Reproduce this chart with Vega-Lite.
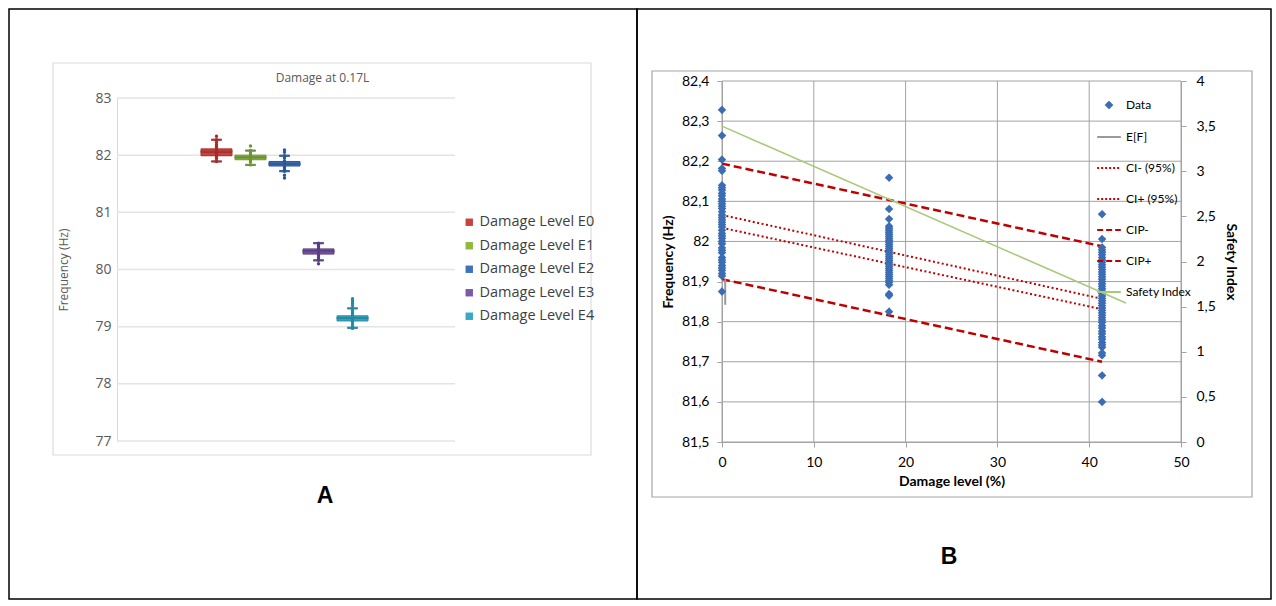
{
  "$schema": "https://vega.github.io/schema/vega-lite/v6.json",
  "padding": {"left": 8, "top": 8, "right": 6, "bottom": 8},
  "background": "white",
  "bounds": "flush",
  "spacing": 0,
  "config": {
    "view": {"stroke": "#000", "strokeWidth": 1.5},
    "axis": {"labelFont": "Lato", "titleFont": "Lato", "labelFlush": false}
  },
  "resolve": {"scale": {"color": "independent", "fill": "independent", "stroke": "independent", "shape": "independent", "size": "independent", "strokeDash": "independent"}},
  "hconcat": [
    {
      "width": 628,
      "height": 590,
      "title": {"text": "A", "orient": "bottom", "anchor": "middle", "offset": -114, "dx": 2, "fontSize": 23, "font": "Liberation Sans", "fontWeight": "bold", "color": "#000"},
      "resolve": {"scale": {"x": "independent", "y": "independent"}, "axis": {"x": "independent", "y": "independent"}},
      "layer": [
        {
          "data": {"values": [{"frame": "chart area"}]},
          "mark": {"type": "rect", "fill": null, "stroke": "#dcdcdc", "strokeWidth": 1.2},
          "encoding": {
            "x": {"datum": 0, "type": "quantitative", "scale": {"domain": [0, 1], "range": [44, 582]}, "axis": null},
            "x2": {"datum": 1},
            "y": {"datum": 0, "type": "quantitative", "scale": {"domain": [0, 1], "range": [446, 54]}, "axis": null},
            "y2": {"datum": 1}
          }
        },
        {
          "data": {"values": [{"gy": 77}, {"gy": 78}, {"gy": 79}, {"gy": 80}, {"gy": 81}, {"gy": 82}, {"gy": 83}]},
          "mark": {"type": "rule", "color": "#e4e4e4", "strokeWidth": 1.5},
          "encoding": {
            "x": {"datum": 0, "type": "quantitative", "scale": {"domain": [0, 1], "range": [108, 446]}, "axis": null},
            "x2": {"datum": 1},
            "y": {"field": "gy", "type": "quantitative", "scale": {"domain": [77, 83], "range": [432, 89]},
              "axis": {"orient": "left", "offset": -108, "values": [77, 78, 79, 80, 81, 82, 83], "grid": false, "ticks": false, "domain": true, "domainColor": "#d9d9d9", "labelFont": "Open Sans", "labelFontSize": 14, "labelColor": "#595959", "labelPadding": 6, "title": "Frequency (Hz)", "titleFont": "Open Sans", "titleFontSize": 12, "titleFontWeight": "normal", "titleColor": "#595959", "titlePadding": 24}}
          }
        },
        {
          "data": {"name": "boxes"},
          "mark": {"type": "rule", "strokeWidth": 1.2},
          "encoding": {
            "x": {"field": "group", "type": "nominal", "scale": {"type": "band", "domain": ["Damage Level E0", "Damage Level E1", "Damage Level E2", "Damage Level E3", "Damage Level E4"], "range": [175, 376], "paddingOuter": 0.5, "paddingInner": 0.09}, "axis": null},
            "y": {"field": "lo", "type": "quantitative", "scale": {"domain": [77, 83], "range": [432, 89]}, "axis": null},
            "y2": {"field": "hi"},
            "stroke": {"field": "group", "type": "nominal", "scale": {"range": ["#a32d2a", "#6f9430", "#2d5797", "#5b3d82", "#2489a1"]}, "legend": null}
          }
        },
        {
          "data": {"name": "boxes"},
          "mark": {"type": "tick", "size": 10, "thickness": 1.2, "opacity": 1},
          "encoding": {
            "x": {"field": "group", "type": "nominal", "scale": {"type": "band", "domain": ["Damage Level E0", "Damage Level E1", "Damage Level E2", "Damage Level E3", "Damage Level E4"], "range": [175, 376], "paddingOuter": 0.5, "paddingInner": 0.09}, "axis": null},
            "y": {"field": "lo", "type": "quantitative", "scale": {"domain": [77, 83], "range": [432, 89]}, "axis": null},
            "stroke": {"field": "group", "type": "nominal", "legend": null}
          }
        },
        {
          "data": {"name": "boxes"},
          "mark": {"type": "tick", "size": 10, "thickness": 1.2, "opacity": 1},
          "encoding": {
            "x": {"field": "group", "type": "nominal", "scale": {"type": "band", "domain": ["Damage Level E0", "Damage Level E1", "Damage Level E2", "Damage Level E3", "Damage Level E4"], "range": [175, 376], "paddingOuter": 0.5, "paddingInner": 0.09}, "axis": null},
            "y": {"field": "hi", "type": "quantitative", "scale": {"domain": [77, 83], "range": [432, 89]}, "axis": null},
            "stroke": {"field": "group", "type": "nominal", "legend": null}
          }
        },
        {
          "data": {"name": "boxes"},
          "mark": {"type": "bar", "strokeWidth": 1},
          "encoding": {
            "x": {"field": "group", "type": "nominal",
              "scale": {"type": "band", "domain": ["Damage Level E0", "Damage Level E1", "Damage Level E2", "Damage Level E3", "Damage Level E4"], "range": [175, 376], "paddingOuter": 0.5, "paddingInner": 0.09},
              "axis": {"orient": "top", "offset": -89, "labels": false, "ticks": false, "domain": false, "grid": false, "title": "Damage at 0.17L", "titleX": 313, "titlePadding": 14, "titleFont": "Open Sans", "titleFontSize": 12, "titleFontWeight": "normal", "titleColor": "#595959"}},
            "y": {"field": "q1", "type": "quantitative", "scale": {"domain": [77, 83], "range": [432, 89]}, "axis": null},
            "y2": {"field": "q3"},
            "color": {"field": "group", "type": "nominal",
              "scale": {"domain": ["Damage Level E0", "Damage Level E1", "Damage Level E2", "Damage Level E3", "Damage Level E4"], "range": ["#c8433f", "#8fb940", "#4072bb", "#7d58a6", "#36a9c6"]},
              "legend": {"title": null, "orient": "none", "legendX": 453, "legendY": 206, "symbolType": "square", "symbolSize": 55, "labelFont": "Open Sans", "labelFontSize": 14.5, "labelColor": "#404040", "rowPadding": 8.5, "labelOffset": 3, "padding": 0}},
            "stroke": {"field": "group", "type": "nominal", "legend": null}
          }
        },
        {
          "data": {"name": "boxes"},
          "mark": {"type": "tick", "size": 31, "thickness": 1.2, "opacity": 1},
          "encoding": {
            "x": {"field": "group", "type": "nominal", "scale": {"type": "band", "domain": ["Damage Level E0", "Damage Level E1", "Damage Level E2", "Damage Level E3", "Damage Level E4"], "range": [175, 376], "paddingOuter": 0.5, "paddingInner": 0.09}, "axis": null},
            "y": {"field": "median", "type": "quantitative", "scale": {"domain": [77, 83], "range": [432, 89]}, "axis": null},
            "stroke": {"field": "group", "type": "nominal", "legend": null}
          }
        },
        {
          "data": {"name": "pointsA"},
          "mark": {"type": "circle", "size": 12, "opacity": 1},
          "encoding": {
            "x": {"field": "group", "type": "nominal", "scale": {"type": "band", "domain": ["Damage Level E0", "Damage Level E1", "Damage Level E2", "Damage Level E3", "Damage Level E4"], "range": [175, 376], "paddingOuter": 0.5, "paddingInner": 0.09}, "axis": null},
            "y": {"field": "value", "type": "quantitative", "scale": {"domain": [77, 83], "range": [432, 89]}, "axis": null},
            "fill": {"field": "group", "type": "nominal", "scale": {"range": ["#a32d2a", "#6f9430", "#2d5797", "#5b3d82", "#2489a1"]}, "legend": null}
          }
        }
      ]
    },
    {
      "width": 634,
      "height": 590,
      "title": {"text": "B", "orient": "bottom", "anchor": "middle", "offset": -53, "dx": -5, "fontSize": 23, "font": "Liberation Sans", "fontWeight": "bold", "color": "#000"},
      "resolve": {"scale": {"x": "independent", "y": "independent"}, "axis": {"x": "independent", "y": "independent"}},
      "layer": [
        {
          "data": {"values": [{"frame": "chart area"}]},
          "mark": {"type": "rect", "fill": null, "stroke": "#a6a6a6", "strokeWidth": 1.2},
          "encoding": {
            "x": {"datum": 0, "type": "quantitative", "scale": {"domain": [0, 1], "range": [15, 615]}, "axis": null},
            "x2": {"datum": 1},
            "y": {"datum": 0, "type": "quantitative", "scale": {"domain": [0, 1], "range": [488, 62]}, "axis": null},
            "y2": {"datum": 1}
          }
        },
        {
          "data": {"values": [{"x": 0}, {"x": 10}, {"x": 20}, {"x": 30}, {"x": 40}, {"x": 50}]},
          "mark": {"type": "rule", "color": "#a3a3a3", "strokeWidth": 1},
          "encoding": {
            "x": {"field": "x", "type": "quantitative", "scale": {"domain": [0, 50], "range": [85, 544]},
              "axis": {"orient": "bottom", "offset": -157, "values": [0, 10, 20, 30, 40, 50], "grid": false, "domainColor": "#a3a3a3", "tickColor": "#a3a3a3", "tickSize": 5, "labelFontSize": 14, "labelColor": "#000", "labelPadding": 8, "title": "Damage level (%)", "titleFontSize": 14, "titleFontWeight": "bold", "titleColor": "#000", "titlePadding": 5}},
            "y": {"datum": 81.5, "type": "quantitative", "scale": {"domain": [81.5, 82.4], "range": [433, 72]}, "axis": null},
            "y2": {"datum": 82.4}
          }
        },
        {
          "data": {"values": [{"y": 81.5}, {"y": 81.6}, {"y": 81.7}, {"y": 81.8}, {"y": 81.9}, {"y": 82.0}, {"y": 82.1}, {"y": 82.2}, {"y": 82.3}, {"y": 82.4}]},
          "mark": {"type": "rule", "color": "#a3a3a3", "strokeWidth": 1},
          "encoding": {
            "y": {"field": "y", "type": "quantitative", "scale": {"domain": [81.5, 82.4], "range": [433, 72]},
              "axis": {"orient": "left", "offset": -85, "values": [81.5, 81.6, 81.7, 81.8, 81.9, 82.0, 82.1, 82.2, 82.3, 82.4], "labelExpr": "replace(format(datum.value, '.1~f'), '.', ',')", "grid": false, "domainColor": "#a3a3a3", "tickColor": "#a3a3a3", "tickSize": 5, "labelFontSize": 14, "labelColor": "#000", "labelPadding": 8, "title": "Frequency (Hz)", "titleFontSize": 14, "titleFontWeight": "bold", "titleColor": "#000", "titlePadding": 6}},
            "x": {"datum": 0, "type": "quantitative", "scale": {"domain": [0, 50], "range": [85, 544]}, "axis": null},
            "x2": {"datum": 50}
          }
        },
        {
          "data": {"values": [
            {"series": "CI- (95%)", "x": 0, "y": 82.034}, {"series": "CI- (95%)", "x": 41.4, "y": 81.831},
            {"series": "CI+ (95%)", "x": 0, "y": 82.066}, {"series": "CI+ (95%)", "x": 41.4, "y": 81.857}
          ]},
          "mark": {"type": "line", "color": "#c00000", "strokeWidth": 2, "strokeDash": [2, 2.5]},
          "encoding": {
            "x": {"field": "x", "type": "quantitative", "scale": {"domain": [0, 50], "range": [85, 544]}, "axis": null},
            "y": {"field": "y", "type": "quantitative", "scale": {"domain": [81.5, 82.4], "range": [433, 72]}, "axis": null},
            "detail": {"field": "series", "type": "nominal"}
          }
        },
        {
          "data": {"values": [
            {"series": "CIP-", "x": 0, "y": 81.906}, {"series": "CIP-", "x": 41.4, "y": 81.7},
            {"series": "CIP+", "x": 0, "y": 82.194}, {"series": "CIP+", "x": 41.4, "y": 81.988}
          ]},
          "mark": {"type": "line", "color": "#c00000", "strokeWidth": 2.5, "strokeDash": [8, 4]},
          "encoding": {
            "x": {"field": "x", "type": "quantitative", "scale": {"domain": [0, 50], "range": [85, 544]}, "axis": null},
            "y": {"field": "y", "type": "quantitative", "scale": {"domain": [81.5, 82.4], "range": [433, 72]}, "axis": null},
            "detail": {"field": "series", "type": "nominal"}
          }
        },
        {
          "data": {"values": [
            {"series": "E[F]", "x": 0.35, "y": 81.906}, {"series": "E[F]", "x": 0.35, "y": 81.842}
          ]},
          "mark": {"type": "line", "color": "#9a9a9a", "strokeWidth": 2},
          "encoding": {
            "x": {"field": "x", "type": "quantitative", "scale": {"domain": [0, 50], "range": [85, 544]}, "axis": null},
            "y": {"field": "y", "type": "quantitative", "scale": {"domain": [81.5, 82.4], "range": [433, 72]}, "axis": null},
            "order": {"field": "y", "type": "quantitative"}
          }
        },
        {
          "data": {"name": "pointsB"},
          "mark": {"type": "point", "filled": true, "opacity": 1, "size": 520},
          "encoding": {
            "x": {"field": "x", "type": "quantitative", "scale": {"domain": [0, 50], "range": [85, 544]}, "axis": null},
            "y": {"field": "y", "type": "quantitative", "scale": {"domain": [81.5, 82.4], "range": [433, 72]}, "axis": null},
            "fill": {"field": "series", "type": "nominal",
              "scale": {"domain": ["Data", "E[F]", "CI- (95%)", "CI+ (95%)", "CIP-", "CIP+", "Safety Index"], "range": ["#3c6db3", "#9a9a9a", "#c00000", "#c00000", "#c00000", "#c00000", "#a9c97a"]},
              "legend": {"title": null, "orient": "none", "legendX": 459, "legendY": 83, "labelFont": "Lato", "labelFontSize": 12, "labelColor": "#000", "rowPadding": 12, "labelOffset": 4, "padding": 0, "symbolSize": 560, "symbolStrokeWidth": 2, "symbolOpacity": 1}},
            "stroke": {"field": "series", "type": "nominal",
              "scale": {"domain": ["Data", "E[F]", "CI- (95%)", "CI+ (95%)", "CIP-", "CIP+", "Safety Index"], "range": ["#3c6db3", "#9a9a9a", "#c00000", "#c00000", "#c00000", "#c00000", "#a9c97a"]}},
            "shape": {"field": "series", "type": "nominal",
              "scale": {"domain": ["Data", "E[F]", "CI- (95%)", "CI+ (95%)", "CIP-", "CIP+", "Safety Index"], "range": ["M0,-0.25L0.25,0L0,0.25L-0.25,0Z", "stroke", "stroke", "stroke", "stroke", "stroke", "stroke"]}},
            "strokeDash": {"field": "series", "type": "nominal",
              "scale": {"domain": ["Data", "E[F]", "CI- (95%)", "CI+ (95%)", "CIP-", "CIP+", "Safety Index"], "range": [[1, 0], [1, 0], [2, 2], [2, 2], [6, 3], [6, 3], [1, 0]]}}
          }
        },
        {
          "data": {"values": [{"x": 0, "si": 3.5}, {"x": 44, "si": 1.54}]},
          "mark": {"type": "line", "color": "#a9c97a", "strokeWidth": 1.6},
          "encoding": {
            "x": {"field": "x", "type": "quantitative", "scale": {"domain": [0, 50], "range": [85, 544]}, "axis": null},
            "y": {"field": "si", "type": "quantitative", "scale": {"domain": [0, 4], "range": [433, 72]},
              "axis": {"orient": "right", "offset": -90, "values": [0, 0.5, 1, 1.5, 2, 2.5, 3, 3.5, 4], "labelExpr": "replace(format(datum.value, '.1~f'), '.', ',')", "grid": false, "domainColor": "#a3a3a3", "tickColor": "#a3a3a3", "tickSize": 5, "labelFontSize": 14, "labelColor": "#000", "labelPadding": 10, "title": "Safety Index", "titleFontSize": 14, "titleFontWeight": "bold", "titleColor": "#000", "titlePadding": 8}}
          }
        }
      ]
    }
  ],
  "datasets": {
    "boxes": [
      {"group": "Damage Level E0", "lo": 81.89, "q1": 81.99, "median": 82.06, "q3": 82.11, "hi": 82.27},
      {"group": "Damage Level E1", "lo": 81.83, "q1": 81.92, "median": 81.96, "q3": 82.0, "hi": 82.08},
      {"group": "Damage Level E2", "lo": 81.72, "q1": 81.81, "median": 81.85, "q3": 81.89, "hi": 81.99},
      {"group": "Damage Level E3", "lo": 80.16, "q1": 80.27, "median": 80.32, "q3": 80.36, "hi": 80.46},
      {"group": "Damage Level E4", "lo": 78.98, "q1": 79.1, "median": 79.15, "q3": 79.19, "hi": 79.32}
    ],
    "pointsA": [
      {"group": "Damage Level E0", "value": 82.33}, {"group": "Damage Level E0", "value": 82.27}, {"group": "Damage Level E0", "value": 82.22}, {"group": "Damage Level E0", "value": 82.18}, {"group": "Damage Level E0", "value": 82.14}, {"group": "Damage Level E0", "value": 82.1}, {"group": "Damage Level E0", "value": 82.06}, {"group": "Damage Level E0", "value": 82.02}, {"group": "Damage Level E0", "value": 81.98}, {"group": "Damage Level E0", "value": 81.94}, {"group": "Damage Level E0", "value": 81.89},
      {"group": "Damage Level E1", "value": 82.16}, {"group": "Damage Level E1", "value": 82.08}, {"group": "Damage Level E1", "value": 82.04}, {"group": "Damage Level E1", "value": 82.0}, {"group": "Damage Level E1", "value": 81.96}, {"group": "Damage Level E1", "value": 81.92}, {"group": "Damage Level E1", "value": 81.88}, {"group": "Damage Level E1", "value": 81.83},
      {"group": "Damage Level E2", "value": 82.09}, {"group": "Damage Level E2", "value": 82.05}, {"group": "Damage Level E2", "value": 81.99}, {"group": "Damage Level E2", "value": 81.95}, {"group": "Damage Level E2", "value": 81.9}, {"group": "Damage Level E2", "value": 81.86}, {"group": "Damage Level E2", "value": 81.82}, {"group": "Damage Level E2", "value": 81.78}, {"group": "Damage Level E2", "value": 81.75}, {"group": "Damage Level E2", "value": 81.72}, {"group": "Damage Level E2", "value": 81.65}, {"group": "Damage Level E2", "value": 81.6},
      {"group": "Damage Level E3", "value": 80.46}, {"group": "Damage Level E3", "value": 80.43}, {"group": "Damage Level E3", "value": 80.4}, {"group": "Damage Level E3", "value": 80.36}, {"group": "Damage Level E3", "value": 80.32}, {"group": "Damage Level E3", "value": 80.28}, {"group": "Damage Level E3", "value": 80.24}, {"group": "Damage Level E3", "value": 80.2}, {"group": "Damage Level E3", "value": 80.16}, {"group": "Damage Level E3", "value": 80.1},
      {"group": "Damage Level E4", "value": 79.49}, {"group": "Damage Level E4", "value": 79.45}, {"group": "Damage Level E4", "value": 79.41}, {"group": "Damage Level E4", "value": 79.37}, {"group": "Damage Level E4", "value": 79.32}, {"group": "Damage Level E4", "value": 79.28}, {"group": "Damage Level E4", "value": 79.24}, {"group": "Damage Level E4", "value": 79.2}, {"group": "Damage Level E4", "value": 79.16}, {"group": "Damage Level E4", "value": 79.12}, {"group": "Damage Level E4", "value": 79.08}, {"group": "Damage Level E4", "value": 79.04}, {"group": "Damage Level E4", "value": 79.0}, {"group": "Damage Level E4", "value": 78.97}
    ],
    "pointsB": [
      {"series": "Data", "x": 0, "y": 82.328}, {"series": "Data", "x": 0, "y": 82.264}, {"series": "Data", "x": 0, "y": 82.204}, {"series": "Data", "x": 0, "y": 82.182}, {"series": "Data", "x": 0, "y": 82.176},
      {"series": "Data", "x": 0, "y": 82.14}, {"series": "Data", "x": 0, "y": 82.134}, {"series": "Data", "x": 0, "y": 82.128}, {"series": "Data", "x": 0, "y": 82.12}, {"series": "Data", "x": 0, "y": 82.114}, {"series": "Data", "x": 0, "y": 82.106}, {"series": "Data", "x": 0, "y": 82.1}, {"series": "Data", "x": 0, "y": 82.094}, {"series": "Data", "x": 0, "y": 82.088}, {"series": "Data", "x": 0, "y": 82.082}, {"series": "Data", "x": 0, "y": 82.074}, {"series": "Data", "x": 0, "y": 82.066}, {"series": "Data", "x": 0, "y": 82.06}, {"series": "Data", "x": 0, "y": 82.054}, {"series": "Data", "x": 0, "y": 82.048}, {"series": "Data", "x": 0, "y": 82.042}, {"series": "Data", "x": 0, "y": 82.036}, {"series": "Data", "x": 0, "y": 82.028}, {"series": "Data", "x": 0, "y": 82.02}, {"series": "Data", "x": 0, "y": 82.014}, {"series": "Data", "x": 0, "y": 82.008}, {"series": "Data", "x": 0, "y": 82.0}, {"series": "Data", "x": 0, "y": 81.994}, {"series": "Data", "x": 0, "y": 81.984}, {"series": "Data", "x": 0, "y": 81.978}, {"series": "Data", "x": 0, "y": 81.972}, {"series": "Data", "x": 0, "y": 81.96}, {"series": "Data", "x": 0, "y": 81.954}, {"series": "Data", "x": 0, "y": 81.948}, {"series": "Data", "x": 0, "y": 81.94}, {"series": "Data", "x": 0, "y": 81.934}, {"series": "Data", "x": 0, "y": 81.928}, {"series": "Data", "x": 0, "y": 81.92}, {"series": "Data", "x": 0, "y": 81.914}, {"series": "Data", "x": 0, "y": 81.875},
      {"series": "Data", "x": 18.2, "y": 82.159}, {"series": "Data", "x": 18.2, "y": 82.081}, {"series": "Data", "x": 18.2, "y": 82.056}, {"series": "Data", "x": 18.2, "y": 82.038}, {"series": "Data", "x": 18.2, "y": 82.033}, {"series": "Data", "x": 18.2, "y": 82.028}, {"series": "Data", "x": 18.2, "y": 82.023}, {"series": "Data", "x": 18.2, "y": 82.018}, {"series": "Data", "x": 18.2, "y": 82.013}, {"series": "Data", "x": 18.2, "y": 82.008}, {"series": "Data", "x": 18.2, "y": 82.003}, {"series": "Data", "x": 18.2, "y": 81.998}, {"series": "Data", "x": 18.2, "y": 81.993}, {"series": "Data", "x": 18.2, "y": 81.988}, {"series": "Data", "x": 18.2, "y": 81.983}, {"series": "Data", "x": 18.2, "y": 81.978}, {"series": "Data", "x": 18.2, "y": 81.973}, {"series": "Data", "x": 18.2, "y": 81.968}, {"series": "Data", "x": 18.2, "y": 81.963}, {"series": "Data", "x": 18.2, "y": 81.958}, {"series": "Data", "x": 18.2, "y": 81.953}, {"series": "Data", "x": 18.2, "y": 81.948}, {"series": "Data", "x": 18.2, "y": 81.943}, {"series": "Data", "x": 18.2, "y": 81.938}, {"series": "Data", "x": 18.2, "y": 81.933}, {"series": "Data", "x": 18.2, "y": 81.928}, {"series": "Data", "x": 18.2, "y": 81.923}, {"series": "Data", "x": 18.2, "y": 81.918}, {"series": "Data", "x": 18.2, "y": 81.913}, {"series": "Data", "x": 18.2, "y": 81.908}, {"series": "Data", "x": 18.2, "y": 81.903}, {"series": "Data", "x": 18.2, "y": 81.898}, {"series": "Data", "x": 18.2, "y": 81.892}, {"series": "Data", "x": 18.2, "y": 81.869}, {"series": "Data", "x": 18.2, "y": 81.865}, {"series": "Data", "x": 18.2, "y": 81.825},
      {"series": "Data", "x": 41.4, "y": 82.068}, {"series": "Data", "x": 41.4, "y": 82.006}, {"series": "Data", "x": 41.4, "y": 81.985}, {"series": "Data", "x": 41.4, "y": 81.979}, {"series": "Data", "x": 41.4, "y": 81.973}, {"series": "Data", "x": 41.4, "y": 81.967}, {"series": "Data", "x": 41.4, "y": 81.96}, {"series": "Data", "x": 41.4, "y": 81.954}, {"series": "Data", "x": 41.4, "y": 81.948}, {"series": "Data", "x": 41.4, "y": 81.942}, {"series": "Data", "x": 41.4, "y": 81.936}, {"series": "Data", "x": 41.4, "y": 81.93}, {"series": "Data", "x": 41.4, "y": 81.924}, {"series": "Data", "x": 41.4, "y": 81.918}, {"series": "Data", "x": 41.4, "y": 81.912}, {"series": "Data", "x": 41.4, "y": 81.906}, {"series": "Data", "x": 41.4, "y": 81.9}, {"series": "Data", "x": 41.4, "y": 81.894}, {"series": "Data", "x": 41.4, "y": 81.888}, {"series": "Data", "x": 41.4, "y": 81.882}, {"series": "Data", "x": 41.4, "y": 81.876}, {"series": "Data", "x": 41.4, "y": 81.87}, {"series": "Data", "x": 41.4, "y": 81.864}, {"series": "Data", "x": 41.4, "y": 81.858}, {"series": "Data", "x": 41.4, "y": 81.852}, {"series": "Data", "x": 41.4, "y": 81.846}, {"series": "Data", "x": 41.4, "y": 81.84}, {"series": "Data", "x": 41.4, "y": 81.834}, {"series": "Data", "x": 41.4, "y": 81.828}, {"series": "Data", "x": 41.4, "y": 81.822}, {"series": "Data", "x": 41.4, "y": 81.816}, {"series": "Data", "x": 41.4, "y": 81.81}, {"series": "Data", "x": 41.4, "y": 81.804}, {"series": "Data", "x": 41.4, "y": 81.798}, {"series": "Data", "x": 41.4, "y": 81.79}, {"series": "Data", "x": 41.4, "y": 81.784}, {"series": "Data", "x": 41.4, "y": 81.776}, {"series": "Data", "x": 41.4, "y": 81.77}, {"series": "Data", "x": 41.4, "y": 81.762}, {"series": "Data", "x": 41.4, "y": 81.756}, {"series": "Data", "x": 41.4, "y": 81.748}, {"series": "Data", "x": 41.4, "y": 81.742}, {"series": "Data", "x": 41.4, "y": 81.736}, {"series": "Data", "x": 41.4, "y": 81.722}, {"series": "Data", "x": 41.4, "y": 81.716}, {"series": "Data", "x": 41.4, "y": 81.666}, {"series": "Data", "x": 41.4, "y": 81.6}
    ]
  }
}
